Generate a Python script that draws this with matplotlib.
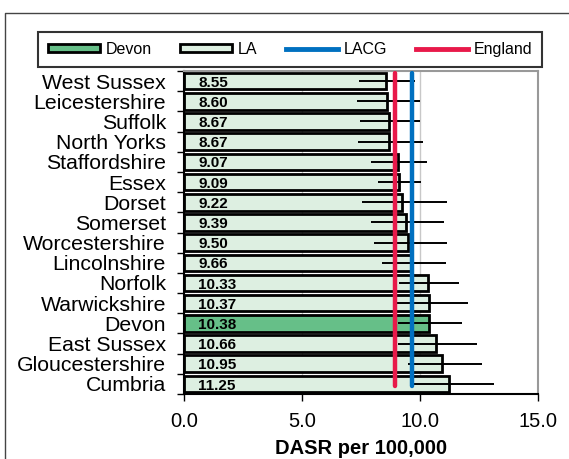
import numpy as np
import matplotlib.pyplot as plt
from matplotlib.patches import Rectangle
from matplotlib.lines import Line2D

plt.rcParams['font.family'] = ['Liberation Sans', 'DejaVu Sans']

areas = ["West Sussex", "Leicestershire", "Suffolk", "North Yorks", "Staffordshire",
         "Essex", "Dorset", "Somerset", "Worcestershire", "Lincolnshire", "Norfolk",
         "Warwickshire", "Devon", "East Sussex", "Gloucestershire", "Cumbria"]
rates = [8.55, 8.60, 8.67, 8.67, 9.07, 9.09, 9.22, 9.39, 9.50, 9.66,
         10.33, 10.37, 10.38, 10.66, 10.95, 11.25]
ci_low = [7.43, 7.34, 7.46, 7.36, 7.92, 8.21, 7.56, 7.92, 8.07, 8.38,
          9.11, 9.00, 9.07, 9.08, 9.49, 9.60]
ci_high = [9.79, 10.00, 10.00, 10.14, 10.31, 10.04, 11.13, 11.03, 11.13, 11.09,
           11.67, 12.03, 11.80, 12.43, 12.61, 13.15]
england = 8.95
lacg = 9.64

fig = plt.figure(figsize=(5.69, 4.59), dpi=100)
ax = fig.add_axes([0.3234, 0.1416, 0.6221, 0.7037])

y = np.arange(len(areas))
cols = ['#66bf88' if a == "Devon" else '#ddefe1' for a in areas]
ax.barh(y, rates, height=0.82, color=cols, edgecolor='black', linewidth=2, zorder=2)

lo = np.array(rates) - np.array(ci_low)
hi = np.array(ci_high) - np.array(rates)
ax.errorbar(rates, y, xerr=[lo, hi], fmt='none', ecolor='black', elinewidth=1.4,
            capsize=0, zorder=3)

for i, v in enumerate(rates):
    ax.text(0.6, i + 0.08, f"{v:.2f}", fontsize=11, fontweight='bold',
            va='center', ha='left', zorder=4)

ax.plot([england, england], [-0.4, 15.1], color='#e8194a', lw=3.2,
        solid_capstyle='round', zorder=5)
ax.plot([lacg, lacg], [-0.4, 15.1], color='#0070c0', lw=3.2,
        solid_capstyle='round', zorder=5)

ax.set_xlim(0, 15)
ax.set_ylim(15.5, -0.5)
ax.set_xticks([0, 5, 10, 15])
ax.set_xticklabels(["0.0", "5.0", "10.0", "15.0"], fontsize=14.5)
ax.set_yticks(y)
ax.set_yticklabels(areas, fontsize=15.3)
ax.tick_params(axis='y', length=0, pad=13)
ax.set_yticks(np.arange(-0.5, 16, 1), minor=True)
ax.tick_params(axis='y', which='minor', length=5, width=1, direction='out')
ax.tick_params(axis='x', length=5, width=1, direction='out', pad=8)
ax.xaxis.grid(True, color='#c8c8c8', lw=1)
ax.set_axisbelow(True)
for s in ['top', 'right']:
    ax.spines[s].set_color('#999999')
    ax.spines[s].set_linewidth(1.5)
ax.spines['left'].set_linewidth(1.5)
ax.spines['bottom'].set_linewidth(1.5)
ax.set_xlabel("DASR per 100,000", fontsize=14.5, fontweight='bold', labelpad=5.5)

handles = [Rectangle((0, 0), 1, 1, facecolor='#66bf88', edgecolor='black', lw=2),
           Rectangle((0, 0), 1, 1, facecolor='#ddefe1', edgecolor='black', lw=2),
           Line2D([], [], color='#0070c0', lw=3.5),
           Line2D([], [], color='#e8194a', lw=3.5)]
leg = fig.legend(handles, ["Devon", "LA", "LACG", "England"], ncol=4,
                 loc='center', bbox_to_anchor=(0.5097, 0.893), fontsize=11.5,
                 frameon=True, fancybox=False, edgecolor='black',
                 handlelength=3.25, handleheight=0.45, handletextpad=0.35,
                 columnspacing=1.8, borderpad=0.63, borderaxespad=0)
leg.get_frame().set_linewidth(1.5)

# outer frame: only the top and left edges show in the source image
fig.add_artist(Line2D([4.5 / 569, 4.5 / 569, 1.0], [0.0, 1 - 12.5 / 459, 1 - 12.5 / 459],
                      transform=fig.transFigure, color='#444444', lw=1))

fig.savefig("out.png", dpi=100)
